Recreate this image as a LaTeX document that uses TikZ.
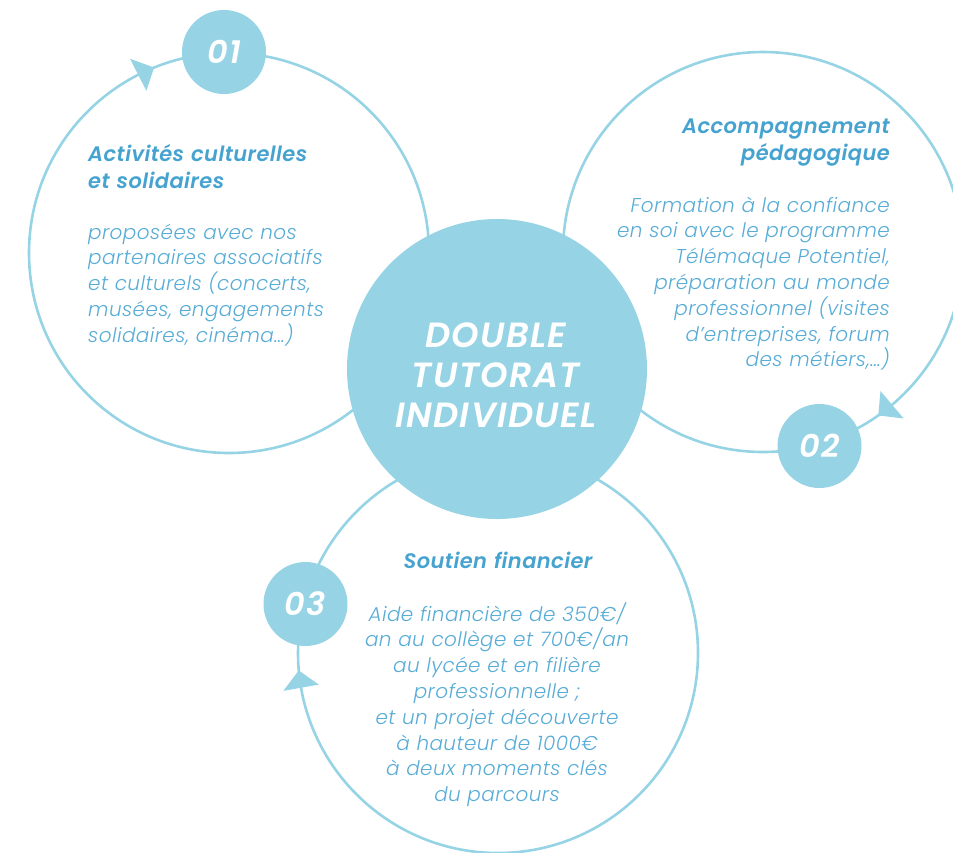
\documentclass[tikz,border=0pt]{standalone}
\usepackage{fontspec}
\setmainfont{Poppins}
\newfontfamily\lightfont{Poppins Light}[ItalicFont={Poppins Light Italic}, LetterSpace=2]
\newfontfamily\semifont{Poppins SemiBold}[ItalicFont={Poppins SemiBold Italic}, LetterSpace=2]
\newfontfamily\hubfont{Poppins SemiBold}[ItalicFont={Poppins SemiBold Italic}, LetterSpace=4]
\definecolor{ringc}{RGB}{150,212,229}
\definecolor{titlec}{RGB}{70,163,208}
\definecolor{bodyc}{RGB}{88,172,214}
\tikzset{
  ring/.style={circle, draw=ringc, line width=2.6pt, minimum size=400pt, inner sep=0pt},
  hub/.style={circle, fill=ringc, minimum size=300pt, inner sep=0pt},
  badge/.style={circle, fill=ringc, minimum size=84pt, inner sep=0pt, text=white,
    font=\hubfont\itshape\fontsize{32}{32}\selectfont},
  arrowtri/.style={fill=ringc},
  titletxt/.style={text=titlec, inner sep=0pt, font=\semifont\itshape\fontsize{21}{27}\selectfont},
  bodytxt/.style={text=bodyc, inner sep=0pt, font=\lightfont\itshape\fontsize{20}{25.8}\selectfont},
  hubtxt/.style={text=white, inner sep=0pt, align=center, font=\hubfont\itshape\fontsize{35}{40}\selectfont}
}
\begin{document}
\begin{tikzpicture}[x=1pt,y=1pt]
\useasboundingbox (0,0) rectangle (953,-852);
\clip (0,0) rectangle (953,-852);
% rings
\node[ring] (c1) at (229,-253) {};
\node[ring] (c2) at (763,-252) {};
\node[ring] (c3) at (498,-653) {};
% arrowheads
\fill[arrowtri, shift={(c1.center)}] (117:182) -- (117:218) -- (112:200) -- cycle;
\fill[arrowtri, shift={(c2.center)}] (-49.8:182) -- (-49.8:218) -- (-54.8:200) -- cycle;
\fill[arrowtri, shift={(c3.center)}] (190:182) -- (190:218) -- (185:200) -- cycle;
% hub
\node[hub] (hub) at (497,-369) {};
\node[hubtxt, anchor=base, text width=290pt] (hubt) at (496,-347) {DOUBLE\\TUTORAT\\INDIVIDUEL};
% badges
\node[badge] (b1) at (224,-52) {01};
\node[badge] (b2) at (819.5,-446) {02};
\node[badge] (b3) at (305.5,-604) {03};
% texts circle 1
\node[titletxt, anchor=base west, text width=280pt, align=left] (t1) at (88,-161)
  {Activités culturelles\\et solidaires};
\node[bodytxt, anchor=base west, text width=280pt, align=left] (d1) at (88,-239)
  {proposées avec nos\\partenaires associatifs\\et culturels (concerts,\\musées, engagements\\solidaires, cinéma…)};
% texts circle 2
\node[titletxt, anchor=base east, text width=300pt, align=right] (t2) at (890,-133)
  {Accompagnement\\pédagogique};
\node[bodytxt, anchor=base east, text width=300pt, align=right] (d2) at (890,-212)
  {Formation à la confiance\\en soi avec le programme\\Télémaque Potentiel,\\préparation au monde\\professionnel (visites\\d’entreprises, forum\\des métiers,…)};
% texts circle 3
\node[titletxt, anchor=base, text width=320pt, align=center] (t3) at (498,-568)
  {Soutien financier};
\node[bodytxt, anchor=base, text width=320pt, align=center] (d3) at (497,-621)
  {Aide financière de 350€/\\an au collège et 700€/an\\au lycée et en filière\\professionnelle ;\\et un projet découverte\\à hauteur de 1000€\\à deux moments clés\\du parcours};
\end{tikzpicture}
\end{document}
